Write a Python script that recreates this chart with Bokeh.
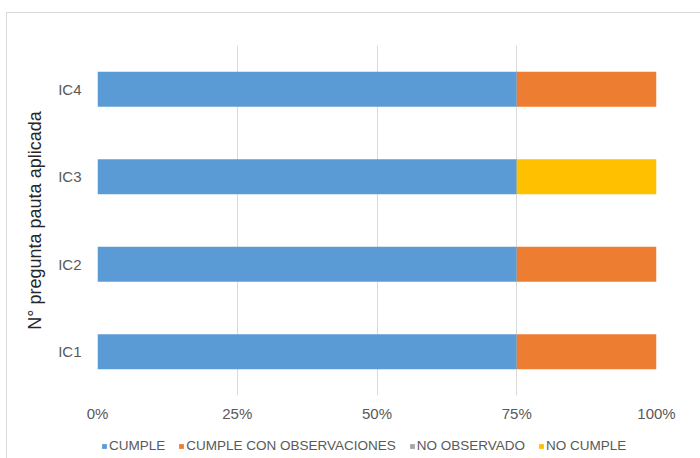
from bokeh.plotting import figure
from bokeh.layouts import column
from bokeh.models import FixedTicker, NumeralTickFormatter, Legend, LegendItem, FactorRange
from bokeh.embed import file_html
from bokeh.resources import INLINE

# Share of each evaluation outcome per applied question
preguntas = ["IC1", "IC2", "IC3", "IC4"]
cumple = [0.75, 0.75, 0.75, 0.75]
cumple_con_obs = [0.25, 0.25, 0.0, 0.25]
no_observado = [0.0, 0.0, 0.0, 0.0]
no_cumple = [0.0, 0.0, 0.25, 0.0]

series = ["CUMPLE", "CUMPLE CON OBSERVACIONES", "NO OBSERVADO", "NO CUMPLE"]
colores = ["#5B9BD5", "#ED7D31", "#A5A5A5", "#FFC000"]

data = {
    "pregunta": preguntas,
    "CUMPLE": cumple,
    "CUMPLE CON OBSERVACIONES": cumple_con_obs,
    "NO OBSERVADO": no_observado,
    "NO CUMPLE": no_cumple,
}

FONT = "Liberation Sans"

p = figure(
    width=694, height=416,
    y_range=FactorRange(factors=preguntas, range_padding=0),
    x_range=(0, 1),
    output_backend="svg", toolbar_location=None,
    min_border_left=90, min_border_right=45,
    min_border_top=32, min_border_bottom=34,
)

renderers = p.hbar_stack(series, y="pregunta", height=0.4, color=colores,
                         source=data, line_width=0)

p.outline_line_color = None
p.ygrid.grid_line_color = None
p.xgrid.grid_line_color = "#d9d9d9"
p.xgrid.grid_line_width = 1

p.xaxis.ticker = FixedTicker(ticks=[0, 0.25, 0.5, 0.75, 1])
p.xaxis.formatter = NumeralTickFormatter(format="0%")
for ax in (p.xaxis, p.yaxis):
    ax.axis_line_color = None
    ax.major_tick_line_color = None
    ax.minor_tick_line_color = None
    ax.major_label_text_font = FONT
    ax.major_label_text_font_size = "15px"
    ax.major_label_text_color = "#595959"
p.xaxis.major_label_standoff = 3
p.yaxis.major_label_standoff = 10

p.yaxis.axis_label = "N° pregunta pauta aplicada"
p.yaxis.axis_label_text_font = FONT
p.yaxis.axis_label_text_font_style = "normal"
p.yaxis.axis_label_text_font_size = "18px"
p.yaxis.axis_label_text_color = "#262626"
p.yaxis.axis_label_standoff = 10

# Legend strip below the chart (its frame lines up with the chart's frame)
leg = figure(width=694, height=30, output_backend="svg", toolbar_location=None,
             x_range=(0, 1), y_range=(0, 1), min_border=0,
             x_axis_location=None, y_axis_location=None)
leg.grid.visible = False
leg.outline_line_color = None
items = []
for s, c in zip(series, colores):
    r = leg.hbar(y=[-5], left=[-5], right=[-4], height=0.1, color=c, line_width=0)
    items.append(LegendItem(label=s, renderers=[r]))
legend = Legend(
    items=items, orientation="horizontal", location=(4, 6),
    label_text_font=FONT, label_text_font_size="13.5px",
    label_text_color="#595959",
    glyph_width=6, glyph_height=6, label_standoff=2, spacing=13,
    border_line_color=None, background_fill_alpha=0,
    padding=0, margin=0,
)
leg.add_layout(legend)

layout = column(p, leg, spacing=0)
layout.margin = (12, 0, 0, 6)
layout.styles = {"border-left": "1px solid #d9d9d9", "border-top": "1px solid #d9d9d9"}

open("out.html", "w").write(file_html(layout, INLINE))
